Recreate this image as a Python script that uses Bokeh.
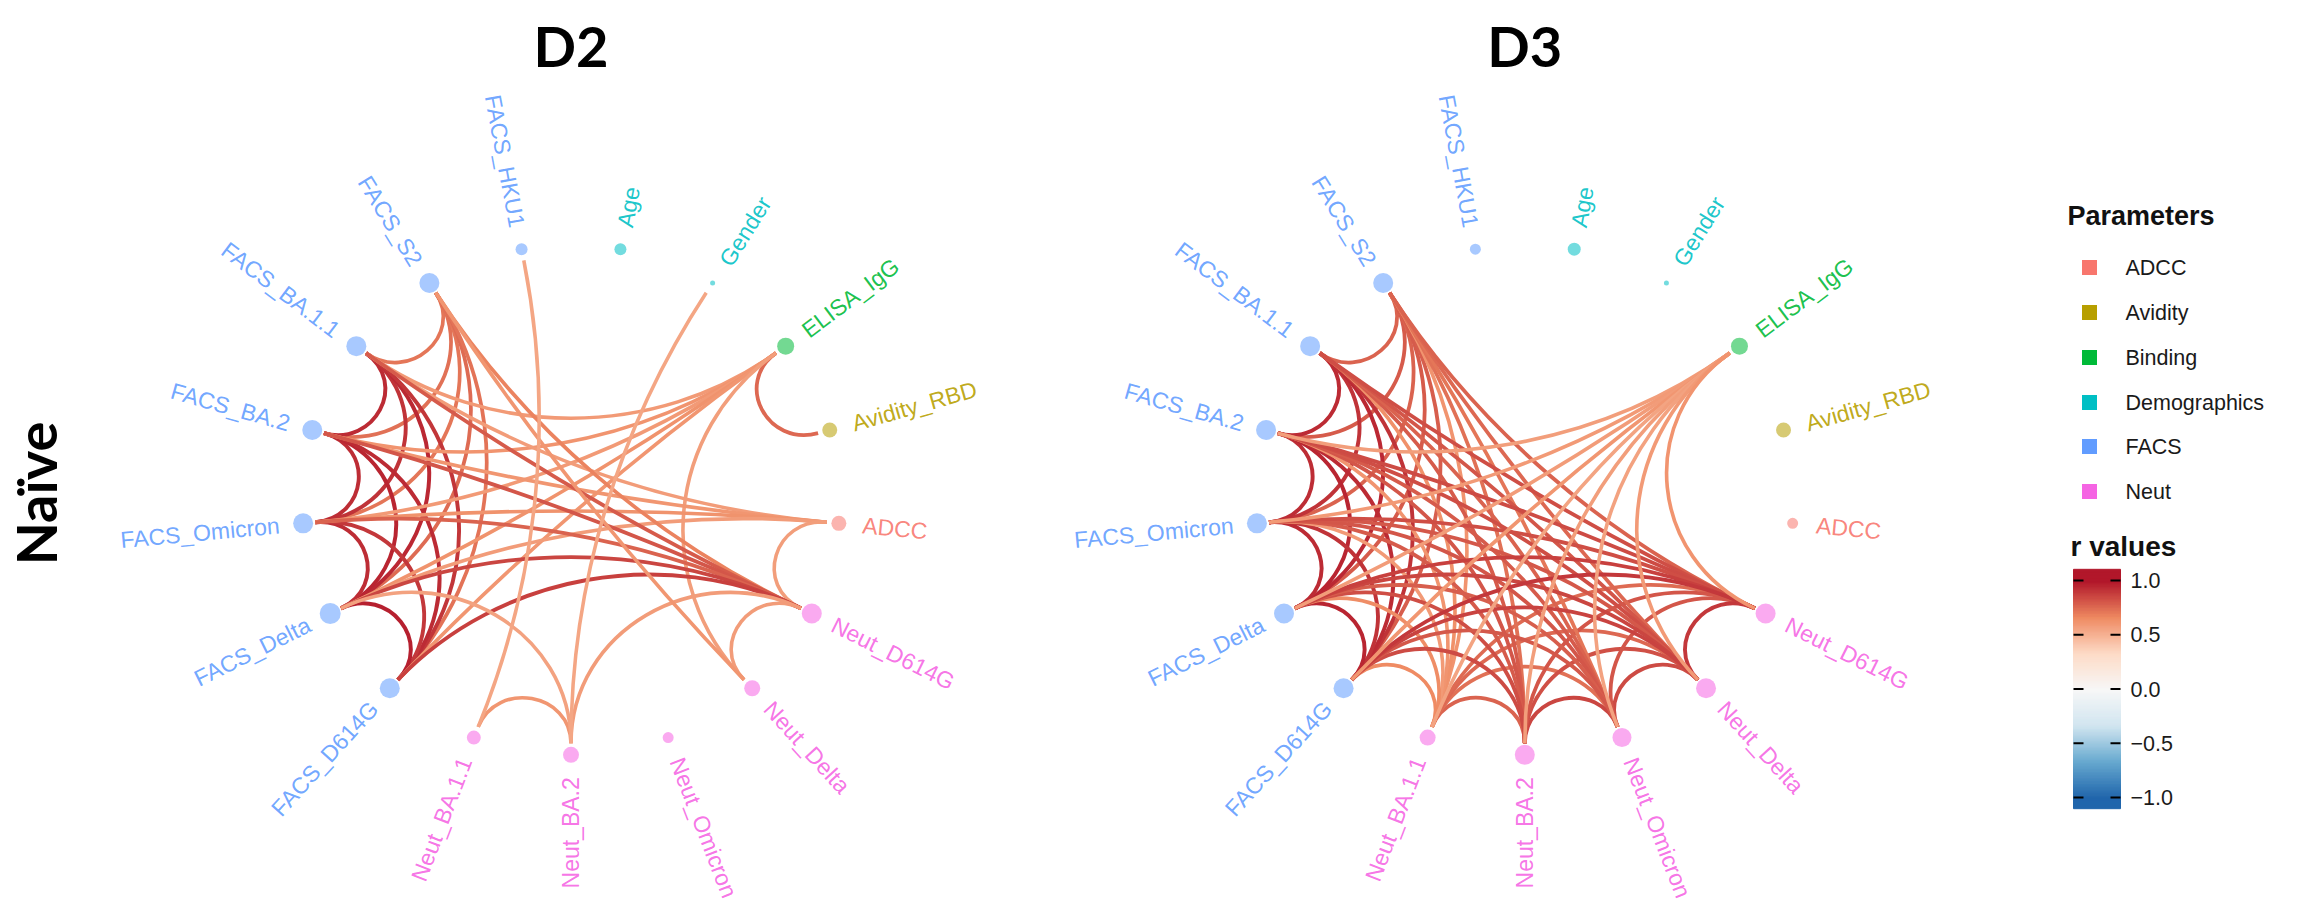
import numpy as np
from bokeh.plotting import figure
from bokeh.models import ColumnDataSource, Range1d
from bokeh.transform import linear_cmap
from bokeh.core.properties import value
from bokeh.embed import file_html
from bokeh.resources import INLINE

# ---------------- data ----------------
nodes = ["Neut_BA.2", "Neut_Omicron", "Neut_Delta", "Neut_D614G", "ADCC",
         "Avidity_RBD", "ELISA_IgG", "Gender", "Age", "FACS_HKU1", "FACS_S2",
         "FACS_BA.1.1", "FACS_BA.2", "FACS_Omicron", "FACS_Delta", "FACS_D614G",
         "Neut_BA.1.1"]
node_groups = ["Neut", "Neut", "Neut", "Neut", "ADCC", "Avidity", "Binding",
               "Demographics", "Demographics", "FACS", "FACS", "FACS", "FACS",
               "FACS", "FACS", "FACS", "Neut"]
groups = ["ADCC", "Avidity", "Binding", "Demographics", "FACS", "Neut"]
group_colors = ["#F8766D", "#B79F00", "#00BA38", "#00BFC4", "#619CFF", "#F564E3"]

panel_titles = ["D2", "D3"]
row_label = "Naïve"
legend_groups_title = "Parameters"
legend_r_title = "r values"
r_ticks = [1.0, 0.5, 0.0, -0.5, -1.0]
r_tick_labels = ["1.0", "0.5", "0.0", "\u22120.5", "\u22121.0"]
rdbu7 = ["#2166AC", "#67A9CF", "#D1E5F0", "#F7F7F7", "#FDDBC7", "#EF8A62", "#B2182B"]

d2_node_size = [16, 11, 16, 20, 15, 15, 17, 5, 12, 12, 20, 20, 20, 20, 21, 20, 14]
d3_node_size = [20, 19, 20, 20, 11, 15, 17, 5, 13, 11, 20, 20, 20, 20, 20, 20, 16]

d2_from = ["FACS_S2", "FACS_S2", "FACS_S2", "FACS_S2", "FACS_S2",
           "FACS_BA.1.1", "FACS_BA.1.1", "FACS_BA.1.1", "FACS_BA.1.1",
           "FACS_BA.2", "FACS_BA.2", "FACS_BA.2",
           "FACS_Omicron", "FACS_Omicron", "FACS_Delta",
           "ELISA_IgG", "ELISA_IgG", "ELISA_IgG", "ELISA_IgG", "ELISA_IgG", "ELISA_IgG", "ELISA_IgG",
           "ADCC", "ADCC", "ADCC", "ADCC", "ADCC",
           "Neut_D614G", "Neut_D614G", "Neut_D614G", "Neut_D614G", "Neut_D614G", "Neut_D614G",
           "Neut_D614G", "Neut_D614G",
           "Neut_Delta", "Neut_BA.2", "Neut_BA.2", "Neut_BA.2", "Neut_BA.1.1"]
d2_to = ["FACS_BA.1.1", "FACS_BA.2", "FACS_Omicron", "FACS_Delta", "FACS_D614G",
         "FACS_BA.2", "FACS_Omicron", "FACS_Delta", "FACS_D614G",
         "FACS_Omicron", "FACS_Delta", "FACS_D614G",
         "FACS_Delta", "FACS_D614G", "FACS_D614G",
         "FACS_BA.1.1", "FACS_BA.2", "FACS_Omicron", "FACS_Delta", "FACS_D614G", "Avidity_RBD", "Neut_Delta",
         "FACS_BA.1.1", "FACS_BA.2", "FACS_Omicron", "FACS_Delta", "Neut_D614G",
         "FACS_S2", "FACS_BA.1.1", "FACS_BA.2", "FACS_Omicron", "FACS_Delta", "FACS_D614G",
         "Neut_Delta", "Neut_BA.2",
         "FACS_S2", "Neut_BA.1.1", "FACS_Delta", "Gender", "FACS_HKU1"]
d2_r = [0.72, 0.74, 0.72, 0.75, 0.73,
        0.94, 0.92, 0.95, 0.91,
        0.93, 0.96, 0.94,
        0.93, 0.90, 0.97,
        0.60, 0.62, 0.60, 0.63, 0.61, 0.76, 0.58,
        0.59, 0.61, 0.63, 0.59, 0.58,
        0.68, 0.80, 0.82, 0.78, 0.86, 0.88,
        0.59, 0.59,
        0.61, 0.61, 0.57, 0.55, 0.55]

d3_from = ["FACS_S2", "FACS_S2", "FACS_S2", "FACS_S2", "FACS_S2",
           "FACS_BA.1.1", "FACS_BA.1.1", "FACS_BA.1.1", "FACS_BA.1.1",
           "FACS_BA.2", "FACS_BA.2", "FACS_BA.2",
           "FACS_Omicron", "FACS_Omicron", "FACS_Delta",
           "Neut_BA.1.1", "Neut_BA.1.1", "Neut_BA.1.1", "Neut_BA.1.1",
           "Neut_BA.2", "Neut_BA.2", "Neut_BA.2",
           "Neut_Omicron", "Neut_Omicron", "Neut_Delta",
           "FACS_S2", "FACS_S2", "FACS_S2", "FACS_S2", "FACS_S2",
           "FACS_BA.1.1", "FACS_BA.1.1", "FACS_BA.1.1", "FACS_BA.1.1", "FACS_BA.1.1",
           "FACS_BA.2", "FACS_BA.2", "FACS_BA.2", "FACS_BA.2", "FACS_BA.2",
           "FACS_Omicron", "FACS_Omicron", "FACS_Omicron", "FACS_Omicron", "FACS_Omicron",
           "FACS_Delta", "FACS_Delta", "FACS_Delta", "FACS_Delta", "FACS_Delta",
           "FACS_D614G", "FACS_D614G", "FACS_D614G", "FACS_D614G", "FACS_D614G",
           "ELISA_IgG", "ELISA_IgG", "ELISA_IgG", "ELISA_IgG", "ELISA_IgG",
           "ELISA_IgG", "ELISA_IgG", "ELISA_IgG", "ELISA_IgG"]
d3_to = ["FACS_BA.1.1", "FACS_BA.2", "FACS_Omicron", "FACS_Delta", "FACS_D614G",
         "FACS_BA.2", "FACS_Omicron", "FACS_Delta", "FACS_D614G",
         "FACS_Omicron", "FACS_Delta", "FACS_D614G",
         "FACS_Delta", "FACS_D614G", "FACS_D614G",
         "Neut_BA.2", "Neut_Omicron", "Neut_Delta", "Neut_D614G",
         "Neut_Omicron", "Neut_Delta", "Neut_D614G",
         "Neut_Delta", "Neut_D614G", "Neut_D614G",
         "Neut_BA.1.1", "Neut_BA.2", "Neut_Omicron", "Neut_Delta", "Neut_D614G",
         "Neut_BA.1.1", "Neut_BA.2", "Neut_Omicron", "Neut_Delta", "Neut_D614G",
         "Neut_BA.1.1", "Neut_BA.2", "Neut_Omicron", "Neut_Delta", "Neut_D614G",
         "Neut_BA.1.1", "Neut_BA.2", "Neut_Omicron", "Neut_Delta", "Neut_D614G",
         "Neut_BA.1.1", "Neut_BA.2", "Neut_Omicron", "Neut_Delta", "Neut_D614G",
         "Neut_BA.1.1", "Neut_BA.2", "Neut_Omicron", "Neut_Delta", "Neut_D614G",
         "FACS_BA.2", "FACS_Omicron", "FACS_Delta", "FACS_D614G", "Neut_BA.1.1",
         "Neut_BA.2", "Neut_Omicron", "Neut_Delta", "Neut_D614G"]
d3_r = [0.78, 0.80, 0.78, 0.80, 0.79,
        0.94, 0.92, 0.95, 0.92,
        0.93, 0.96, 0.94,
        0.94, 0.92, 0.96,
        0.78, 0.74, 0.76, 0.75,
        0.86, 0.83, 0.82,
        0.85, 0.82, 0.90,
        0.62, 0.74, 0.72, 0.76, 0.78,
        0.64, 0.80, 0.78, 0.82, 0.84,
        0.62, 0.82, 0.80, 0.84, 0.85,
        0.60, 0.80, 0.82, 0.81, 0.84,
        0.65, 0.84, 0.79, 0.86, 0.88,
        0.66, 0.85, 0.81, 0.87, 0.90,
        0.58, 0.60, 0.59, 0.61, 0.56,
        0.58, 0.57, 0.60, 0.62]

# ---------------- layout constants ----------------
W, H = 2290, 900
RX, RY = 269.0, 255.0
CX = [578.5, 1532.3]
CY = 507.3
R_EDGE = 0.955
R_LABEL = 1.088


def dx(X):
    return (X - CX[0]) / RX


def dy(Y):
    return (CY - Y) / RY


offsets = [0.0, dx(CX[1])]

# interpolated palette from RdBu (7 classes), low (-1) -> high (+1)
def hex2rgb(h):
    return np.array([int(h[1:3], 16), int(h[3:5], 16), int(h[5:7], 16)], dtype=float)

anchors = np.array([hex2rgb(c) for c in rdbu7])
pos = np.linspace(0, 1, len(rdbu7))
palette = []
for t in np.linspace(0, 1, 256):
    rgb = [np.interp(t, pos, anchors[:, k]) for k in range(3)]
    palette.append("#%02x%02x%02x" % tuple(int(round(v)) for v in rgb))

cmap = linear_cmap("r", palette, -1, 1)

p = figure(width=W, height=H, x_range=Range1d(dx(8), dx(8 + W)),
           y_range=Range1d(dy(8 + H), dy(8)), output_backend="svg",
           toolbar_location=None, min_border=0,
           x_axis_location=None, y_axis_location=None)
p.grid.visible = False
p.outline_line_color = None
p.background_fill_color = "white"
p.border_fill_color = "white"

n = len(nodes)
theta = np.deg2rad(-90 + np.arange(n) * 360.0 / n)
idx = {name: i for i, name in enumerate(nodes)}
gcol = dict(zip(groups, group_colors))
node_cols = [gcol[g] for g in node_groups]

panels = [(d2_from, d2_to, d2_r, d2_node_size), (d3_from, d3_to, d3_r, d3_node_size)]

for k, (efrom, eto, er, nsize) in enumerate(panels):
    off = offsets[k]
    cols = {c: [] for c in ["x0", "y0", "x1", "y1", "cx0", "cy0", "cx1", "cy1", "r", "w"]}
    for a_name, b_name, r in zip(efrom, eto, er):
        a, b = theta[idx[a_name]], theta[idx[b_name]]
        d = abs((b - a + np.pi) % (2 * np.pi) - np.pi)
        L = (4.0 / 3.0) * np.tan(d / 2) * np.tan((np.pi - d) / 4)  # relative
        p0 = np.array([np.cos(a), np.sin(a)]) * R_EDGE
        p1 = np.array([np.cos(b), np.sin(b)]) * R_EDGE
        c0 = p0 * (1 - L)
        c1 = p1 * (1 - L)
        cols["x0"].append(p0[0] + off); cols["y0"].append(p0[1])
        cols["x1"].append(p1[0] + off); cols["y1"].append(p1[1])
        cols["cx0"].append(c0[0] + off); cols["cy0"].append(c0[1])
        cols["cx1"].append(c1[0] + off); cols["cy1"].append(c1[1])
        cols["r"].append(r)
        cols["w"].append(3.0 + 1.0 * abs(r))
    esrc = ColumnDataSource(cols)
    p.bezier(x0="x0", y0="y0", x1="x1", y1="y1", cx0="cx0", cy0="cy0",
             cx1="cx1", cy1="cy1", source=esrc, line_color=cmap, line_width="w")

    nsrc = ColumnDataSource(dict(x=np.cos(theta) + off, y=np.sin(theta),
                                 size=nsize, color=node_cols))
    p.scatter("x", "y", size="size", fill_color="color", fill_alpha=0.55,
              line_color=None, source=nsrc)

    # labels
    for side in ("left", "right"):
        lx, ly, la, lt, lc = [], [], [], [], []
        for i in range(n):
            deg = (np.rad2deg(theta[i])) % 360
            is_left = 90 <= deg <= 270
            if (side == "left") != is_left:
                continue
            lx.append(R_LABEL * np.cos(theta[i]) + off)
            ly.append(R_LABEL * np.sin(theta[i]))
            la.append(np.deg2rad(deg - 180) if is_left else theta[i])
            lt.append(nodes[i])
            lc.append(node_cols[i])
        lsrc = ColumnDataSource(dict(x=lx, y=ly, angle=la, text=lt, color=lc))
        p.text("x", "y", text="text", angle="angle", source=lsrc,
               text_color="color", text_alpha=0.9,
               text_align="right" if side == "left" else "left",
               text_baseline="middle", text_font=value("Liberation Sans"),
               text_font_size=value("23px"))

    # panel title
    p.text([off], [dy(53)], text=[panel_titles[k]], text_align="center",
           text_baseline="alphabetic", text_font=value("Lato"),
           text_font_style="bold", text_font_size=value("56px"), text_color="black")

# row label
p.text([dx(43)], [dy(501)], text=[row_label], angle=np.pi / 2, text_align="center",
       text_baseline="middle", text_font=value("Lato"), text_font_style="bold",
       text_font_size=value("56px"), text_color="black")

# ---------------- legends ----------------
p.text([dx(2075)], [dy(223)], text=[legend_groups_title], text_align="left",
       text_baseline="middle", text_font=value("Liberation Sans"),
       text_font_style="bold", text_font_size=value("27px"), text_color="#111111")
rows_y = [275, 320, 365, 410, 454, 499]
lg = ColumnDataSource(dict(x=[dx(2097)] * len(groups), y=[dy(v) for v in rows_y],
                           tx=[dx(2133)] * len(groups), text=groups, color=group_colors))
p.scatter("x", "y", marker="square", size=15, fill_color="color", line_color=None, source=lg)
p.text("tx", "y", text="text", source=lg, text_align="left", text_baseline="middle",
       text_font=value("Liberation Sans"), text_font_size=value("21.5px"),
       text_color="#1a1a1a")

p.text([dx(2078)], [dy(554)], text=[legend_r_title], text_align="left",
       text_baseline="middle", text_font=value("Liberation Sans"),
       text_font_style="bold", text_font_size=value("28px"), text_color="#111111")

# colour bar
CB_MID, CB_UNIT = 696.5, 108.5
nb = 160
vals = np.linspace(-1.092, 1.092, nb)
step = (2 * 1.092 / (nb - 1)) * CB_UNIT / RY
cb = ColumnDataSource(dict(x=[dx(2104.5)] * nb, y=[dy(CB_MID - v * CB_UNIT) for v in vals], r=vals))
p.rect("x", "y", width=47 / RX, height=step * 1.6, source=cb, fill_color=cmap,
       line_color=cmap, line_width=1)
ty = [dy(CB_MID - t * CB_UNIT) for t in r_ticks]
p.segment(x0=[dx(2081)] * 5, y0=ty, x1=[dx(2091)] * 5, y1=ty, line_color="black", line_width=2)
p.segment(x0=[dx(2118)] * 5, y0=ty, x1=[dx(2128)] * 5, y1=ty, line_color="black", line_width=2)
p.text([dx(2138)] * 5, ty, text=r_tick_labels, text_align="left", text_baseline="middle",
       text_font=value("Liberation Sans"), text_font_size=value("21.5px"),
       text_color="#1a1a1a")

open("out.html", "w").write(file_html(p, INLINE))
